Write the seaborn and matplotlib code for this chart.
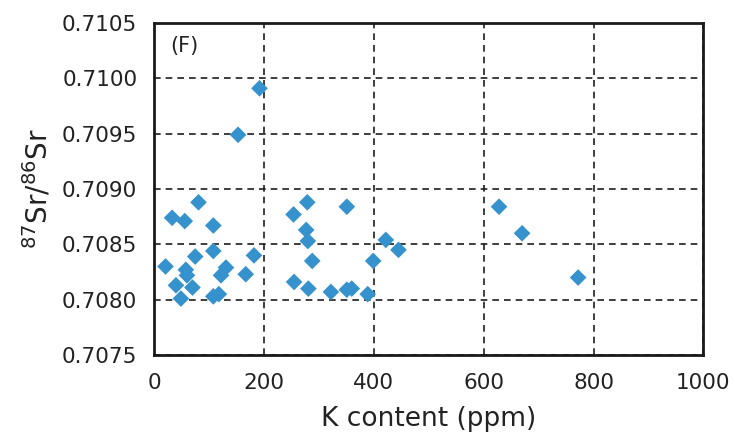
import matplotlib
matplotlib.use("Agg")
import matplotlib.pyplot as plt
import seaborn as sns
import pandas as pd

# K content (ppm) and 87Sr/86Sr ratios
k_ppm = [192, 153, 81, 33, 56, 108, 108, 75, 182, 21,
         58, 60, 131, 122, 167, 40, 70, 49, 108, 118,
         279, 254, 351, 277, 280, 288, 422, 445, 399, 255,
         281, 322, 351, 360, 389, 628, 670, 772]
sr_ratio = [0.70991, 0.70949, 0.70888, 0.70874, 0.70871, 0.70867, 0.70844, 0.70839, 0.70840, 0.70830,
            0.70827, 0.70822, 0.70829, 0.70822, 0.70823, 0.70813, 0.70811, 0.70801, 0.70803, 0.70805,
            0.70888, 0.70877, 0.70884, 0.70863, 0.70853, 0.70835, 0.70854, 0.70845, 0.70835, 0.70816,
            0.70810, 0.70807, 0.70809, 0.70810, 0.70805, 0.70884, 0.70860, 0.70820]

x_ticks = [0, 200, 400, 600, 800, 1000]
y_ticks = [0.7075, 0.7080, 0.7085, 0.7090, 0.7095, 0.7100, 0.7105]

df = pd.DataFrame({"K": k_ppm, "Sr": sr_ratio})

sns.set_theme(style="white")
plt.rcParams["font.family"] = ["DejaVu Sans"]

fig = plt.figure(figsize=(7.35, 4.41), dpi=100)
ax = fig.add_axes([0.2095, 0.195, 0.7475, 0.7528])

sns.scatterplot(data=df, x="K", y="Sr", ax=ax, marker="D", s=72,
                color="#3592cc", edgecolor="none", zorder=3)

ax.set_xlim(0, 1000)
ax.set_ylim(0.7075, 0.7105)
ax.set_xticks(x_ticks)
ax.set_yticks(y_ticks)
ax.set_xticklabels([str(v) for v in x_ticks])
ax.set_yticklabels([f"{v:.4f}" for v in y_ticks])

ax.grid(True, color="#1e1e1e", linestyle=(0, (4, 3)), linewidth=1.2, zorder=1)
ax.set_axisbelow(True)

for sp in ax.spines.values():
    sp.set_color("#1a1a1a")
    sp.set_linewidth(2.0)

ax.tick_params(axis="both", direction="out", length=4, width=1.5,
               color="#1a1a1a", labelsize=15.5, labelcolor="#222222")
ax.tick_params(axis="y", pad=8)
ax.tick_params(axis="x", pad=9)

ax.set_xlabel("K content (ppm)", fontsize=19, color="#222222", labelpad=9)
ax.set_ylabel(r"$^{87}$Sr/$^{86}$Sr", fontsize=20, color="#222222", labelpad=6)

ax.text(0.03, 0.93, "(F)", transform=ax.transAxes, fontsize=15,
        color="#222222", ha="left", va="center")

fig.savefig("out.png", dpi=100)
